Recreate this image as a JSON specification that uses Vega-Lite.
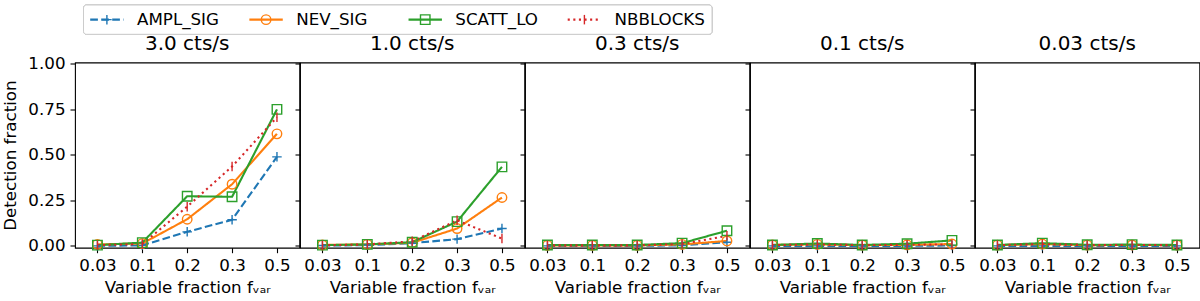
{
  "$schema": "https://vega.github.io/schema/vega-lite/v6.json",
  "padding": {"left": 2, "top": 4, "right": 4, "bottom": 0},
  "background": "white",
  "datasets": {
    "det": [
      {"rate": "3.0", "series": "AMPL_SIG", "fvar": "0.03", "frac": 0.0},
      {"rate": "3.0", "series": "AMPL_SIG", "fvar": "0.1", "frac": 0.003},
      {"rate": "3.0", "series": "AMPL_SIG", "fvar": "0.2", "frac": 0.077},
      {"rate": "3.0", "series": "AMPL_SIG", "fvar": "0.3", "frac": 0.143},
      {"rate": "3.0", "series": "AMPL_SIG", "fvar": "0.5", "frac": 0.488},
      {"rate": "3.0", "series": "NEV_SIG", "fvar": "0.03", "frac": 0.008},
      {"rate": "3.0", "series": "NEV_SIG", "fvar": "0.1", "frac": 0.013},
      {"rate": "3.0", "series": "NEV_SIG", "fvar": "0.2", "frac": 0.146},
      {"rate": "3.0", "series": "NEV_SIG", "fvar": "0.3", "frac": 0.338},
      {"rate": "3.0", "series": "NEV_SIG", "fvar": "0.5", "frac": 0.614},
      {"rate": "3.0", "series": "SCATT_LO", "fvar": "0.03", "frac": 0.004},
      {"rate": "3.0", "series": "SCATT_LO", "fvar": "0.1", "frac": 0.018},
      {"rate": "3.0", "series": "SCATT_LO", "fvar": "0.2", "frac": 0.272},
      {"rate": "3.0", "series": "SCATT_LO", "fvar": "0.3", "frac": 0.269},
      {"rate": "3.0", "series": "SCATT_LO", "fvar": "0.5", "frac": 0.748},
      {"rate": "3.0", "series": "NBBLOCKS", "fvar": "0.03", "frac": 0.004},
      {"rate": "3.0", "series": "NBBLOCKS", "fvar": "0.1", "frac": 0.01},
      {"rate": "3.0", "series": "NBBLOCKS", "fvar": "0.2", "frac": 0.215},
      {"rate": "3.0", "series": "NBBLOCKS", "fvar": "0.3", "frac": 0.435},
      {"rate": "3.0", "series": "NBBLOCKS", "fvar": "0.5", "frac": 0.705},

      {"rate": "1.0", "series": "AMPL_SIG", "fvar": "0.03", "frac": 0.002},
      {"rate": "1.0", "series": "AMPL_SIG", "fvar": "0.1", "frac": 0.004},
      {"rate": "1.0", "series": "AMPL_SIG", "fvar": "0.2", "frac": 0.015},
      {"rate": "1.0", "series": "AMPL_SIG", "fvar": "0.3", "frac": 0.037},
      {"rate": "1.0", "series": "AMPL_SIG", "fvar": "0.5", "frac": 0.095},
      {"rate": "1.0", "series": "NEV_SIG", "fvar": "0.03", "frac": 0.005},
      {"rate": "1.0", "series": "NEV_SIG", "fvar": "0.1", "frac": 0.008},
      {"rate": "1.0", "series": "NEV_SIG", "fvar": "0.2", "frac": 0.017},
      {"rate": "1.0", "series": "NEV_SIG", "fvar": "0.3", "frac": 0.095},
      {"rate": "1.0", "series": "NEV_SIG", "fvar": "0.5", "frac": 0.265},
      {"rate": "1.0", "series": "SCATT_LO", "fvar": "0.03", "frac": 0.004},
      {"rate": "1.0", "series": "SCATT_LO", "fvar": "0.1", "frac": 0.008},
      {"rate": "1.0", "series": "SCATT_LO", "fvar": "0.2", "frac": 0.02},
      {"rate": "1.0", "series": "SCATT_LO", "fvar": "0.3", "frac": 0.133},
      {"rate": "1.0", "series": "SCATT_LO", "fvar": "0.5", "frac": 0.433},
      {"rate": "1.0", "series": "NBBLOCKS", "fvar": "0.03", "frac": 0.003},
      {"rate": "1.0", "series": "NBBLOCKS", "fvar": "0.1", "frac": 0.008},
      {"rate": "1.0", "series": "NBBLOCKS", "fvar": "0.2", "frac": 0.025},
      {"rate": "1.0", "series": "NBBLOCKS", "fvar": "0.3", "frac": 0.14},
      {"rate": "1.0", "series": "NBBLOCKS", "fvar": "0.5", "frac": 0.04},

      {"rate": "0.3", "series": "AMPL_SIG", "fvar": "0.03", "frac": 0.0},
      {"rate": "0.3", "series": "AMPL_SIG", "fvar": "0.1", "frac": 0.0},
      {"rate": "0.3", "series": "AMPL_SIG", "fvar": "0.2", "frac": 0.0},
      {"rate": "0.3", "series": "AMPL_SIG", "fvar": "0.3", "frac": 0.003},
      {"rate": "0.3", "series": "AMPL_SIG", "fvar": "0.5", "frac": 0.02},
      {"rate": "0.3", "series": "NEV_SIG", "fvar": "0.03", "frac": 0.003},
      {"rate": "0.3", "series": "NEV_SIG", "fvar": "0.1", "frac": 0.003},
      {"rate": "0.3", "series": "NEV_SIG", "fvar": "0.2", "frac": 0.003},
      {"rate": "0.3", "series": "NEV_SIG", "fvar": "0.3", "frac": 0.008},
      {"rate": "0.3", "series": "NEV_SIG", "fvar": "0.5", "frac": 0.027},
      {"rate": "0.3", "series": "SCATT_LO", "fvar": "0.03", "frac": 0.005},
      {"rate": "0.3", "series": "SCATT_LO", "fvar": "0.1", "frac": 0.005},
      {"rate": "0.3", "series": "SCATT_LO", "fvar": "0.2", "frac": 0.005},
      {"rate": "0.3", "series": "SCATT_LO", "fvar": "0.3", "frac": 0.015},
      {"rate": "0.3", "series": "SCATT_LO", "fvar": "0.5", "frac": 0.083},
      {"rate": "0.3", "series": "NBBLOCKS", "fvar": "0.03", "frac": 0.003},
      {"rate": "0.3", "series": "NBBLOCKS", "fvar": "0.1", "frac": 0.003},
      {"rate": "0.3", "series": "NBBLOCKS", "fvar": "0.2", "frac": 0.003},
      {"rate": "0.3", "series": "NBBLOCKS", "fvar": "0.3", "frac": 0.01},
      {"rate": "0.3", "series": "NBBLOCKS", "fvar": "0.5", "frac": 0.055},

      {"rate": "0.1", "series": "AMPL_SIG", "fvar": "0.03", "frac": 0.0},
      {"rate": "0.1", "series": "AMPL_SIG", "fvar": "0.1", "frac": 0.0},
      {"rate": "0.1", "series": "AMPL_SIG", "fvar": "0.2", "frac": 0.0},
      {"rate": "0.1", "series": "AMPL_SIG", "fvar": "0.3", "frac": 0.0},
      {"rate": "0.1", "series": "AMPL_SIG", "fvar": "0.5", "frac": 0.002},
      {"rate": "0.1", "series": "NEV_SIG", "fvar": "0.03", "frac": 0.005},
      {"rate": "0.1", "series": "NEV_SIG", "fvar": "0.1", "frac": 0.008},
      {"rate": "0.1", "series": "NEV_SIG", "fvar": "0.2", "frac": 0.004},
      {"rate": "0.1", "series": "NEV_SIG", "fvar": "0.3", "frac": 0.006},
      {"rate": "0.1", "series": "NEV_SIG", "fvar": "0.5", "frac": 0.01},
      {"rate": "0.1", "series": "SCATT_LO", "fvar": "0.03", "frac": 0.005},
      {"rate": "0.1", "series": "SCATT_LO", "fvar": "0.1", "frac": 0.013},
      {"rate": "0.1", "series": "SCATT_LO", "fvar": "0.2", "frac": 0.005},
      {"rate": "0.1", "series": "SCATT_LO", "fvar": "0.3", "frac": 0.012},
      {"rate": "0.1", "series": "SCATT_LO", "fvar": "0.5", "frac": 0.03},
      {"rate": "0.1", "series": "NBBLOCKS", "fvar": "0.03", "frac": 0.004},
      {"rate": "0.1", "series": "NBBLOCKS", "fvar": "0.1", "frac": 0.008},
      {"rate": "0.1", "series": "NBBLOCKS", "fvar": "0.2", "frac": 0.004},
      {"rate": "0.1", "series": "NBBLOCKS", "fvar": "0.3", "frac": 0.006},
      {"rate": "0.1", "series": "NBBLOCKS", "fvar": "0.5", "frac": 0.008},

      {"rate": "0.03", "series": "AMPL_SIG", "fvar": "0.03", "frac": 0.0},
      {"rate": "0.03", "series": "AMPL_SIG", "fvar": "0.1", "frac": 0.0},
      {"rate": "0.03", "series": "AMPL_SIG", "fvar": "0.2", "frac": 0.0},
      {"rate": "0.03", "series": "AMPL_SIG", "fvar": "0.3", "frac": 0.0},
      {"rate": "0.03", "series": "AMPL_SIG", "fvar": "0.5", "frac": 0.0},
      {"rate": "0.03", "series": "NEV_SIG", "fvar": "0.03", "frac": 0.004},
      {"rate": "0.03", "series": "NEV_SIG", "fvar": "0.1", "frac": 0.01},
      {"rate": "0.03", "series": "NEV_SIG", "fvar": "0.2", "frac": 0.004},
      {"rate": "0.03", "series": "NEV_SIG", "fvar": "0.3", "frac": 0.005},
      {"rate": "0.03", "series": "NEV_SIG", "fvar": "0.5", "frac": 0.004},
      {"rate": "0.03", "series": "SCATT_LO", "fvar": "0.03", "frac": 0.005},
      {"rate": "0.03", "series": "SCATT_LO", "fvar": "0.1", "frac": 0.015},
      {"rate": "0.03", "series": "SCATT_LO", "fvar": "0.2", "frac": 0.006},
      {"rate": "0.03", "series": "SCATT_LO", "fvar": "0.3", "frac": 0.007},
      {"rate": "0.03", "series": "SCATT_LO", "fvar": "0.5", "frac": 0.005},
      {"rate": "0.03", "series": "NBBLOCKS", "fvar": "0.03", "frac": 0.004},
      {"rate": "0.03", "series": "NBBLOCKS", "fvar": "0.1", "frac": 0.01},
      {"rate": "0.03", "series": "NBBLOCKS", "fvar": "0.2", "frac": 0.004},
      {"rate": "0.03", "series": "NBBLOCKS", "fvar": "0.3", "frac": 0.005},
      {"rate": "0.03", "series": "NBBLOCKS", "fvar": "0.5", "frac": 0.004}
    ],
    "legendItems": [
      {"series": "AMPL_SIG"},
      {"series": "NEV_SIG"},
      {"series": "SCATT_LO"},
      {"series": "NBBLOCKS"}
    ]
  },
  "vconcat": [
    {
      "width": 637,
      "height": 29.3,
      "view": {"stroke": null},
      "data": {"name": "legendItems"},
      "encoding": {
        "x": {"field": "series", "type": "nominal", "sort": ["AMPL_SIG", "NEV_SIG", "SCATT_LO", "NBBLOCKS"], "scale": {"type": "point", "range": [15.2, 492.7], "padding": 0}, "axis": null},
        "y": {"datum": 0, "type": "quantitative", "scale": {"domain": [-1, 1], "nice": false, "zero": false}, "axis": null}
      },
      "layer": [
        {
          "mark": {"type": "rect", "fill": "white", "stroke": "#cccccc", "strokeWidth": 1, "cornerRadius": 3, "xOffset": -6.7, "x2Offset": 144.3},
          "encoding": {
            "x": {"datum": "AMPL_SIG"},
            "x2": {"datum": "NBBLOCKS"},
            "y": {"datum": -1},
            "y2": {"datum": 1}
          }
        },
        {
          "mark": {"type": "rule", "strokeWidth": 2.1, "strokeCap": "butt", "x2Offset": 33.4},
          "encoding": {
            "x2": {"field": "series"},
            "color": {"field": "series", "type": "nominal", "scale": {"domain": ["AMPL_SIG", "NEV_SIG", "SCATT_LO", "NBBLOCKS"], "range": ["#1f77b4", "#ff7f0e", "#2ca02c", "#d62728"]}, "legend": null},
            "strokeDash": {"field": "series", "type": "nominal", "scale": {"domain": ["AMPL_SIG", "NEV_SIG", "SCATT_LO", "NBBLOCKS"], "range": [[7.7, 3.3], [1, 0], [1, 0], [2.1, 3.5]]}, "legend": null}
          }
        },
        {
          "mark": {"type": "point", "filled": false, "size": 90, "strokeWidth": 1.4, "opacity": 1, "xOffset": 16.7},
          "encoding": {
            "color": {"field": "series", "type": "nominal", "scale": {"domain": ["AMPL_SIG", "NEV_SIG", "SCATT_LO", "NBBLOCKS"], "range": ["#1f77b4", "#ff7f0e", "#2ca02c", "#d62728"]}, "legend": null},
            "shape": {"field": "series", "type": "nominal", "scale": {"domain": ["AMPL_SIG", "NEV_SIG", "SCATT_LO", "NBBLOCKS"], "range": ["M-1,0H1M0,-1V1", "circle", "square", "M0,-1V1"]}, "legend": null}
          }
        },
        {
          "mark": {"type": "text", "align": "left", "baseline": "middle", "dx": 46.8, "fontSize": 16.7, "color": "black", "font": "DejaVu Sans"},
          "encoding": {"text": {"field": "series"}}
        }
      ]
    },
    {
      "hconcat": [
        {
          "width": 224.4, "height": 185.2,
          "title": {"text": "3.0 cts/s", "offset": 1},
          "data": {"name": "det"},
          "transform": [{"filter": {"field": "rate", "equal": "3.0"}}],
          "encoding": {
            "x": {"field": "fvar", "type": "ordinal", "sort": ["0.03", "0.1", "0.2", "0.3", "0.5"], "scale": {"type": "point", "padding": 0.5}, "axis": {"labelAngle": 0, "title": "Variable fraction fᵥₐᵣ"}},
            "y": {"field": "frac", "type": "quantitative", "scale": {"domain": [-0.01, 1.005], "nice": false, "zero": false}, "axis": {"values": [0, 0.25, 0.5, 0.75, 1], "format": ".2f", "title": "Detection fraction", "titlePadding": 8}},
            "color": {"field": "series", "type": "nominal", "scale": {"domain": ["AMPL_SIG", "NEV_SIG", "SCATT_LO", "NBBLOCKS"], "range": ["#1f77b4", "#ff7f0e", "#2ca02c", "#d62728"]}, "legend": null}
          },
          "layer": [
            {"mark": {"type": "line", "strokeWidth": 2.1, "strokeCap": "butt"}, "encoding": {"strokeDash": {"field": "series", "type": "nominal", "scale": {"domain": ["AMPL_SIG", "NEV_SIG", "SCATT_LO", "NBBLOCKS"], "range": [[7.7, 3.3], [1, 0], [1, 0], [2.1, 3.5]]}, "legend": null}}},
            {"mark": {"type": "point", "filled": false, "size": 90, "strokeWidth": 1.4, "opacity": 1}, "encoding": {"shape": {"field": "series", "type": "nominal", "scale": {"domain": ["AMPL_SIG", "NEV_SIG", "SCATT_LO", "NBBLOCKS"], "range": ["M-1,0H1M0,-1V1", "circle", "square", "M0,-1V1"]}, "legend": null}}}
          ]
        },
        {
          "width": 224.4, "height": 185.2,
          "title": {"text": "1.0 cts/s"},
          "data": {"name": "det"},
          "transform": [{"filter": {"field": "rate", "equal": "1.0"}}],
          "encoding": {
            "x": {"field": "fvar", "type": "ordinal", "sort": ["0.03", "0.1", "0.2", "0.3", "0.5"], "scale": {"type": "point", "padding": 0.5}, "axis": {"labelAngle": 0, "title": "Variable fraction fᵥₐᵣ"}},
            "y": {"field": "frac", "type": "quantitative", "scale": {"domain": [-0.01, 1.005], "nice": false, "zero": false}, "axis": {"values": [0, 0.25, 0.5, 0.75, 1], "labels": false, "title": null}},
            "color": {"field": "series", "type": "nominal", "scale": {"domain": ["AMPL_SIG", "NEV_SIG", "SCATT_LO", "NBBLOCKS"], "range": ["#1f77b4", "#ff7f0e", "#2ca02c", "#d62728"]}, "legend": null}
          },
          "layer": [
            {"mark": {"type": "line", "strokeWidth": 2.1, "strokeCap": "butt"}, "encoding": {"strokeDash": {"field": "series", "type": "nominal", "scale": {"domain": ["AMPL_SIG", "NEV_SIG", "SCATT_LO", "NBBLOCKS"], "range": [[7.7, 3.3], [1, 0], [1, 0], [2.1, 3.5]]}, "legend": null}}},
            {"mark": {"type": "point", "filled": false, "size": 90, "strokeWidth": 1.4, "opacity": 1}, "encoding": {"shape": {"field": "series", "type": "nominal", "scale": {"domain": ["AMPL_SIG", "NEV_SIG", "SCATT_LO", "NBBLOCKS"], "range": ["M-1,0H1M0,-1V1", "circle", "square", "M0,-1V1"]}, "legend": null}}}
          ]
        },
        {
          "width": 224.4, "height": 185.2,
          "title": {"text": "0.3 cts/s"},
          "data": {"name": "det"},
          "transform": [{"filter": {"field": "rate", "equal": "0.3"}}],
          "encoding": {
            "x": {"field": "fvar", "type": "ordinal", "sort": ["0.03", "0.1", "0.2", "0.3", "0.5"], "scale": {"type": "point", "padding": 0.5}, "axis": {"labelAngle": 0, "title": "Variable fraction fᵥₐᵣ"}},
            "y": {"field": "frac", "type": "quantitative", "scale": {"domain": [-0.01, 1.005], "nice": false, "zero": false}, "axis": {"values": [0, 0.25, 0.5, 0.75, 1], "labels": false, "title": null}},
            "color": {"field": "series", "type": "nominal", "scale": {"domain": ["AMPL_SIG", "NEV_SIG", "SCATT_LO", "NBBLOCKS"], "range": ["#1f77b4", "#ff7f0e", "#2ca02c", "#d62728"]}, "legend": null}
          },
          "layer": [
            {"mark": {"type": "line", "strokeWidth": 2.1, "strokeCap": "butt"}, "encoding": {"strokeDash": {"field": "series", "type": "nominal", "scale": {"domain": ["AMPL_SIG", "NEV_SIG", "SCATT_LO", "NBBLOCKS"], "range": [[7.7, 3.3], [1, 0], [1, 0], [2.1, 3.5]]}, "legend": null}}},
            {"mark": {"type": "point", "filled": false, "size": 90, "strokeWidth": 1.4, "opacity": 1}, "encoding": {"shape": {"field": "series", "type": "nominal", "scale": {"domain": ["AMPL_SIG", "NEV_SIG", "SCATT_LO", "NBBLOCKS"], "range": ["M-1,0H1M0,-1V1", "circle", "square", "M0,-1V1"]}, "legend": null}}}
          ]
        },
        {
          "width": 224.4, "height": 185.2,
          "title": {"text": "0.1 cts/s"},
          "data": {"name": "det"},
          "transform": [{"filter": {"field": "rate", "equal": "0.1"}}],
          "encoding": {
            "x": {"field": "fvar", "type": "ordinal", "sort": ["0.03", "0.1", "0.2", "0.3", "0.5"], "scale": {"type": "point", "padding": 0.5}, "axis": {"labelAngle": 0, "title": "Variable fraction fᵥₐᵣ"}},
            "y": {"field": "frac", "type": "quantitative", "scale": {"domain": [-0.01, 1.005], "nice": false, "zero": false}, "axis": {"values": [0, 0.25, 0.5, 0.75, 1], "labels": false, "title": null}},
            "color": {"field": "series", "type": "nominal", "scale": {"domain": ["AMPL_SIG", "NEV_SIG", "SCATT_LO", "NBBLOCKS"], "range": ["#1f77b4", "#ff7f0e", "#2ca02c", "#d62728"]}, "legend": null}
          },
          "layer": [
            {"mark": {"type": "line", "strokeWidth": 2.1, "strokeCap": "butt"}, "encoding": {"strokeDash": {"field": "series", "type": "nominal", "scale": {"domain": ["AMPL_SIG", "NEV_SIG", "SCATT_LO", "NBBLOCKS"], "range": [[7.7, 3.3], [1, 0], [1, 0], [2.1, 3.5]]}, "legend": null}}},
            {"mark": {"type": "point", "filled": false, "size": 90, "strokeWidth": 1.4, "opacity": 1}, "encoding": {"shape": {"field": "series", "type": "nominal", "scale": {"domain": ["AMPL_SIG", "NEV_SIG", "SCATT_LO", "NBBLOCKS"], "range": ["M-1,0H1M0,-1V1", "circle", "square", "M0,-1V1"]}, "legend": null}}}
          ]
        },
        {
          "width": 224.4, "height": 185.2,
          "title": {"text": "0.03 cts/s"},
          "data": {"name": "det"},
          "transform": [{"filter": {"field": "rate", "equal": "0.03"}}],
          "encoding": {
            "x": {"field": "fvar", "type": "ordinal", "sort": ["0.03", "0.1", "0.2", "0.3", "0.5"], "scale": {"type": "point", "padding": 0.5}, "axis": {"labelAngle": 0, "title": "Variable fraction fᵥₐᵣ"}},
            "y": {"field": "frac", "type": "quantitative", "scale": {"domain": [-0.01, 1.005], "nice": false, "zero": false}, "axis": {"values": [0, 0.25, 0.5, 0.75, 1], "labels": false, "title": null}},
            "color": {"field": "series", "type": "nominal", "scale": {"domain": ["AMPL_SIG", "NEV_SIG", "SCATT_LO", "NBBLOCKS"], "range": ["#1f77b4", "#ff7f0e", "#2ca02c", "#d62728"]}, "legend": null}
          },
          "layer": [
            {"mark": {"type": "line", "strokeWidth": 2.1, "strokeCap": "butt"}, "encoding": {"strokeDash": {"field": "series", "type": "nominal", "scale": {"domain": ["AMPL_SIG", "NEV_SIG", "SCATT_LO", "NBBLOCKS"], "range": [[7.7, 3.3], [1, 0], [1, 0], [2.1, 3.5]]}, "legend": null}}},
            {"mark": {"type": "point", "filled": false, "size": 90, "strokeWidth": 1.4, "opacity": 1}, "encoding": {"shape": {"field": "series", "type": "nominal", "scale": {"domain": ["AMPL_SIG", "NEV_SIG", "SCATT_LO", "NBBLOCKS"], "range": ["M-1,0H1M0,-1V1", "circle", "square", "M0,-1V1"]}, "legend": null}}}
          ]
        }
      ],
      "spacing": 0,
      "bounds": "flush"
    }
  ],
  "spacing": -2.5,
  "config": {
    "font": "DejaVu Sans",
    "view": {"stroke": "black", "strokeWidth": 1.1},
    "axis": {"domain": false, "grid": false, "tickColor": "black", "tickSize": 5, "tickWidth": 1.1, "labelFontSize": 16.7, "labelColor": "black", "labelFont": "DejaVu Sans", "labelPadding": 5, "titleFontSize": 16.7, "titleFontWeight": "normal", "titleColor": "black", "titleFont": "DejaVu Sans", "titlePadding": 5},
    "title": {"fontSize": 20, "fontWeight": "normal", "color": "black", "anchor": "middle", "font": "DejaVu Sans", "baseline": "alphabetic", "offset": 8.5, "frame": "group"}
  }
}
